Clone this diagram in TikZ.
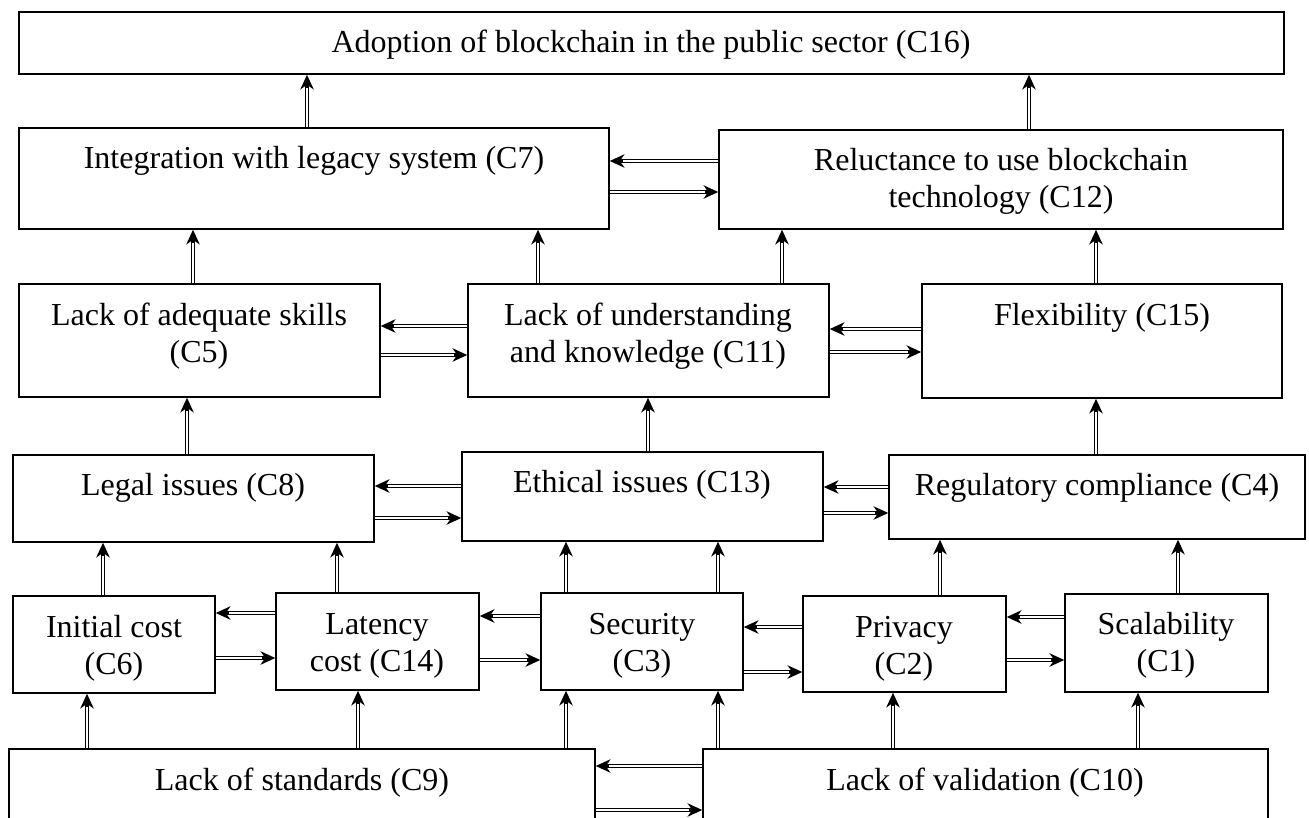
\documentclass[tikz,border=0pt]{standalone}
\usepackage{fontspec}
\setmainfont{Liberation Serif}
\usetikzlibrary{arrows.meta,fit}

\tikzset{
  box/.style={draw, line width=1.1pt, inner sep=0pt},
  lbl/.style={anchor=base, align=center, inner sep=0pt, font=\fontsize{24}{27.75}\selectfont},
  dbl/.style={line width=2.3pt, -{Stealth[length=11pt,width=10pt,inset=3.5pt]},
    postaction={draw=white, line width=0.8pt, -, shorten >=10pt}},
}

\begin{document}
\begin{tikzpicture}[x=0.75pt,y=0.75pt,yscale=-1,xscale=1]
        \path [use as bounding box, clip] (0,0) rectangle (1309,817);

        \node [box, fit={(19,12) (1284,74)}] (c16) {};
        \node [box, fit={(19,128) (609,229)}] (c7) {};
        \node [box, fit={(719,130) (1283,229)}] (c12) {};
        \node [box, fit={(19,284) (380,397)}] (c5) {};
        \node [box, fit={(468,284) (829,397)}] (c11) {};
        \node [box, fit={(922,284) (1282,398)}] (c15) {};
        \node [box, fit={(13,455) (374,542)}] (c8) {};
        \node [box, fit={(462,452) (823,541)}] (c13) {};
        \node [box, fit={(889,455) (1305,539)}] (c4) {};
        \node [box, fit={(13,596) (215,693)}] (c6) {};
        \node [box, fit={(276,593) (479,690)}] (c14) {};
        \node [box, fit={(541,593) (743,690)}] (c3) {};
        \node [box, fit={(803,596) (1006,692)}] (c2) {};
        \node [box, fit={(1065,594) (1268,692)}] (c1) {};
        \node [box, fit={(9,749) (595,880)}] (c9) {};
        \node [box, fit={(703,749) (1268,880)}] (c10) {};

        \draw [dbl] (c7.north -| 307,0) -- (c16.south -| 307,0);
        \draw [dbl] (c12.north -| 1029,0) -- (c16.south -| 1029,0);
        \draw [dbl] (c12.west |- 0,161) -- (c7.east |- 0,161);
        \draw [dbl] (c7.east |- 0,192) -- (c12.west |- 0,192);

        \draw [dbl] (c5.north -| 193,0) -- (c7.south -| 193,0);
        \draw [dbl] (c11.north -| 538,0) -- (c7.south -| 538,0);
        \draw [dbl] (c11.north -| 782,0) -- (c12.south -| 782,0);
        \draw [dbl] (c15.north -| 1096,0) -- (c12.south -| 1096,0);
        \draw [dbl] (c11.west |- 0,326) -- (c5.east |- 0,326);
        \draw [dbl] (c5.east |- 0,355) -- (c11.west |- 0,355);
        \draw [dbl] (c15.west |- 0,329) -- (c11.east |- 0,329);
        \draw [dbl] (c11.east |- 0,352) -- (c15.west |- 0,352);

        \draw [dbl] (c8.north -| 187,0) -- (c5.south -| 187,0);
        \draw [dbl] (c13.north -| 648,0) -- (c11.south -| 648,0);
        \draw [dbl] (c4.north -| 1096,0) -- (c15.south -| 1096,0);
        \draw [dbl] (c13.west |- 0,486) -- (c8.east |- 0,486);
        \draw [dbl] (c8.east |- 0,518) -- (c13.west |- 0,518);
        \draw [dbl] (c4.west |- 0,487) -- (c13.east |- 0,487);
        \draw [dbl] (c13.east |- 0,513) -- (c4.west |- 0,513);

        \draw [dbl] (c6.north -| 103,0) -- (c8.south -| 103,0);
        \draw [dbl] (c14.north -| 337,0) -- (c8.south -| 337,0);
        \draw [dbl] (c3.north -| 566,0) -- (c13.south -| 566,0);
        \draw [dbl] (c3.north -| 718,0) -- (c13.south -| 718,0);
        \draw [dbl] (c2.north -| 940,0) -- (c4.south -| 940,0);
        \draw [dbl] (c1.north -| 1178,0) -- (c4.south -| 1178,0);
        \draw [dbl] (c14.west |- 0,613) -- (c6.east |- 0,613);
        \draw [dbl] (c6.east |- 0,658) -- (c14.west |- 0,658);
        \draw [dbl] (c3.west |- 0,616) -- (c14.east |- 0,616);
        \draw [dbl] (c14.east |- 0,660) -- (c3.west |- 0,660);
        \draw [dbl] (c2.west |- 0,627) -- (c3.east |- 0,627);
        \draw [dbl] (c3.east |- 0,672) -- (c2.west |- 0,672);
        \draw [dbl] (c1.west |- 0,617) -- (c2.east |- 0,617);
        \draw [dbl] (c2.east |- 0,660) -- (c1.west |- 0,660);

        \draw [dbl] (c9.north -| 87,0) -- (c6.south -| 87,0);
        \draw [dbl] (c9.north -| 358,0) -- (c14.south -| 358,0);
        \draw [dbl] (c9.north -| 566,0) -- (c3.south -| 566,0);
        \draw [dbl] (c10.north -| 718,0) -- (c3.south -| 718,0);
        \draw [dbl] (c10.north -| 893,0) -- (c2.south -| 893,0);
        \draw [dbl] (c10.north -| 1138,0) -- (c1.south -| 1138,0);
        \draw [dbl] (c10.west |- 0,766) -- (c9.east |- 0,766);
        \draw [dbl] (c9.east |- 0,810) -- (c10.west |- 0,810);

        \node [lbl] (t16) at (651,53) {Adoption of blockchain in the public sector (C16)};
        \node [lbl] (t7) at (314,168) {Integration with legacy system (C7)};
        \node [lbl] (t12) at (1001,207) {Reluctance to use blockchain\\technology (C12)};
        \node [lbl] (t5) at (199,362) {Lack of adequate skills\\(C5)};
        \node [lbl] (t11) at (648,362) {Lack of understanding\\and knowledge (C11)};
        \node [lbl] (t15) at (1102,325) {Flexibility (C15)};
        \node [lbl] (t8) at (193,495) {Legal issues (C8)};
        \node [lbl] (t13) at (642,492) {Ethical issues (C13)};
        \node [lbl] (t4) at (1097,495) {Regulatory compliance (C4)};
        \node [lbl] (t6) at (114,674) {Initial cost\\(C6)};
        \node [lbl] (t14) at (377,671) {Latency\\cost (C14)};
        \node [lbl] (t3) at (642,671) {Security\\(C3)};
        \node [lbl] (t2) at (904,674) {Privacy\\(C2)};
        \node [lbl] (t1) at (1166,671) {Scalability\\(C1)};
        \node [lbl] (t9) at (302,790) {Lack of standards (C9)};
        \node [lbl] (t10) at (985,790) {Lack of validation (C10)};
    \end{tikzpicture}
\end{document}
